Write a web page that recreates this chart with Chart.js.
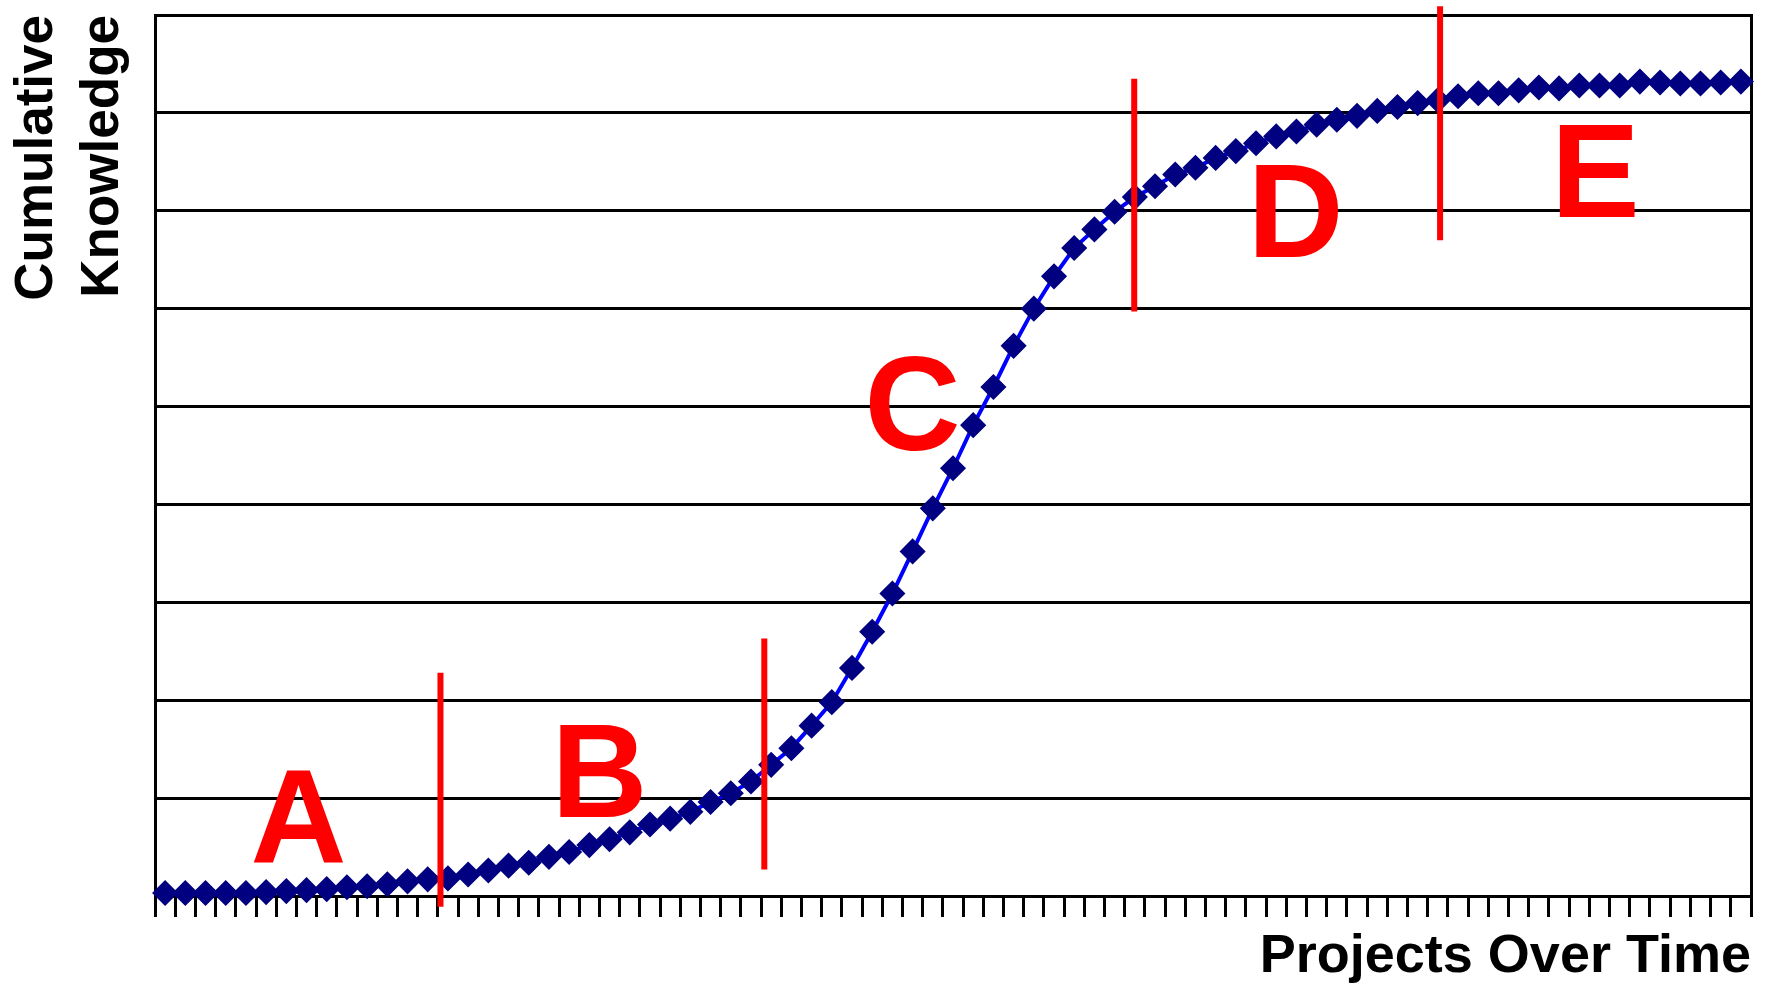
<!DOCTYPE html>
<html>
<head>
<meta charset="utf-8">
<script src="https://cdn.jsdelivr.net/npm/chart.js@4.4.1/dist/chart.umd.min.js"></script>
<style>
  html, body { margin: 0; padding: 0; background: #ffffff; }
  canvas { display: block; }
</style>
</head>
<body>
<canvas id="chart" width="1771" height="983"></canvas>
<script>
// ---- data ----
const projects = [1,2,3,4,5,6,7,8,9,10,11,12,13,14,15,16,17,18,19,20,
  21,22,23,24,25,26,27,28,29,30,31,32,33,34,35,36,37,38,39,40,
  41,42,43,44,45,46,47,48,49,50,51,52,53,54,55,56,57,58,59,60,
  61,62,63,64,65,66,67,68,69,70,71,72,73,74,75,76,77,78,79];
const knowledge = [0.03,0.03,0.03,0.03,0.03,0.04,0.05,0.06,0.07,0.09,
  0.10,0.12,0.15,0.17,0.18,0.22,0.26,0.31,0.34,0.40,
  0.45,0.52,0.58,0.65,0.73,0.79,0.86,0.96,1.05,1.17,
  1.34,1.51,1.74,1.98,2.33,2.70,3.09,3.52,3.96,4.37,
  4.81,5.20,5.62,6.00,6.33,6.62,6.81,6.99,7.14,7.25,
  7.37,7.44,7.54,7.61,7.69,7.76,7.81,7.88,7.93,7.97,
  8.02,8.06,8.10,8.13,8.17,8.20,8.20,8.23,8.26,8.25,
  8.28,8.28,8.28,8.32,8.31,8.30,8.30,8.31,8.32];
const yTickValues = [0,1,2,3,4,5,6,7,8,9];
const phaseLetters = ['A','B','C','D','E'];
const letterX = [7.60, 22.50, 38.00, 56.96, 71.80];
const letterY = [0.34, 0.81, 4.56, 6.53, 6.94];
const boundaryX = [14.63, 30.66, 48.97, 64.11];
const boundaryLow = [-0.11, 0.27, 5.97, 6.70];
const boundaryHigh = [2.28, 2.63, 8.35, 9.09];
const xTitle = 'Projects Over Time';
const yTitle = ['Cumulative', 'Knowledge'];

// ---- chart ----
const FAMILY = '"Liberation Sans", Arial, Helvetica, sans-serif';

const curveData = projects.map((p, i) => ({ x: p, y: knowledge[i] }));
const boundarySets = boundaryX.map((bx, i) => ({
  type: 'line',
  data: [{ x: bx, y: boundaryLow[i] }, { x: bx, y: boundaryHigh[i] }],
  borderColor: '#FF0000',
  borderWidth: 6,
  pointRadius: 0,
  clip: false,
  order: 0
}));

const phaseLetterPlugin = {
  id: 'phaseLetters',
  afterDatasetsDraw(chart) {
    const { ctx, scales: { x, y } } = chart;
    ctx.save();
    ctx.fillStyle = '#FF0000';
    ctx.font = 'bold 133px ' + FAMILY;
    ctx.textAlign = 'center';
    ctx.textBaseline = 'alphabetic';
    phaseLetters.forEach((t, i) => {
      ctx.fillText(t, x.getPixelForValue(letterX[i]), y.getPixelForValue(letterY[i]));
    });
    ctx.restore();
  }
};

new Chart(document.getElementById('chart'), {
  type: 'line',
  data: {
    datasets: [
      ...boundarySets,
      {
        label: 'Cumulative Knowledge',
        data: curveData,
        borderColor: '#0000FF',
        borderWidth: 4,
        pointStyle: 'rectRot',
        pointRadius: 12,
        pointBackgroundColor: '#000080',
        pointBorderColor: '#000080',
        pointBorderWidth: 1.5,
        clip: false,
        order: 10
      }
    ]
  },
  options: {
    responsive: false,
    devicePixelRatio: 1,
    animation: false,
    events: [],
    layout: { padding: { left: 0, top: 15, right: 20, bottom: 0 } },
    plugins: { legend: { display: false }, tooltip: { enabled: false } },
    scales: {
      x: {
        type: 'linear',
        position: 'bottom',
        min: projects[0] - 0.5,
        max: projects[projects.length - 1] + 0.5,
        afterBuildTicks(scale) {
          const t = projects.map(p => ({ value: p - 0.5 }));
          t.push({ value: projects[projects.length - 1] + 0.5 });
          scale.ticks = t;
        },
        ticks: { display: false },
        grid: { drawOnChartArea: false, drawTicks: true, tickLength: 21, color: '#000000', lineWidth: 3 },
        border: { display: true, color: '#000000', width: 3 },
        title: {
          display: true, text: xTitle, align: 'end', color: '#000000',
          font: { family: FAMILY, size: 54, weight: 'bold', lineHeight: 1.0 },
          padding: { top: 13, bottom: -1 }
        }
      },
      y: {
        type: 'linear',
        position: 'left',
        min: yTickValues[0],
        max: yTickValues[yTickValues.length - 1],
        afterBuildTicks(scale) { scale.ticks = yTickValues.map(v => ({ value: v })); },
        ticks: { display: false },
        grid: { drawOnChartArea: true, drawTicks: false, color: '#000000', lineWidth: 3 },
        border: { display: true, color: '#000000', width: 3 },
        title: {
          display: true, text: yTitle, align: 'end', color: '#000000',
          font: { family: FAMILY, size: 53, weight: 'bold', lineHeight: 1.25 },
          padding: { top: 4, bottom: 18.5 }
        }
      },
      y2: {
        type: 'linear',
        position: 'right',
        min: yTickValues[0],
        max: yTickValues[yTickValues.length - 1],
        ticks: { display: false },
        grid: { drawOnChartArea: false, drawTicks: false },
        border: { display: true, color: '#000000', width: 3 }
      }
    }
  },
  plugins: [phaseLetterPlugin]
});
</script>
</body>
</html>
